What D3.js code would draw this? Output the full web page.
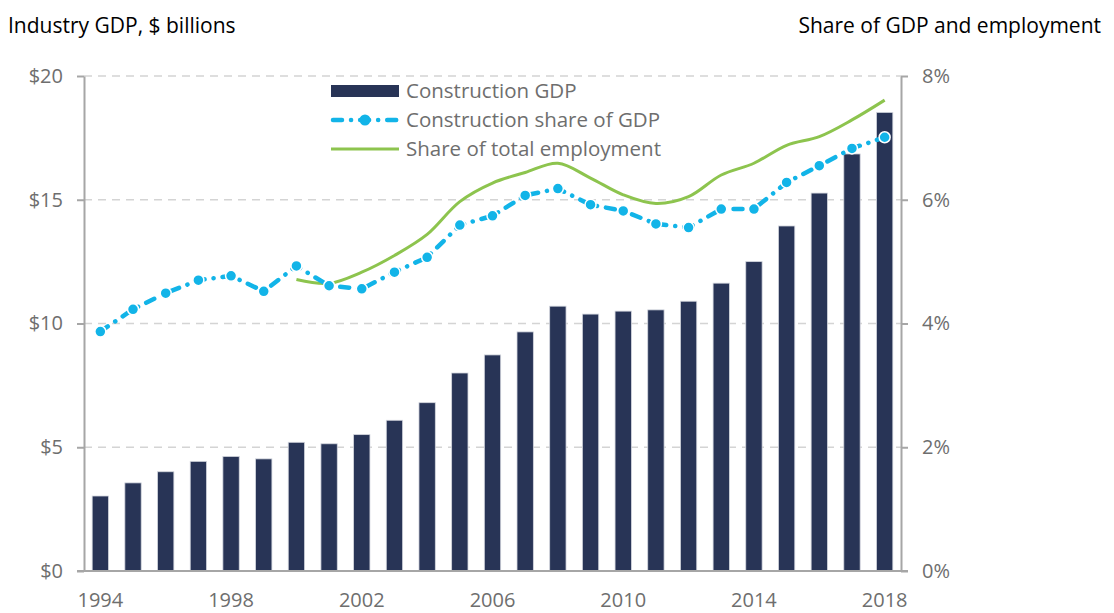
<!DOCTYPE html>
<html>
<head>
<meta charset="utf-8">
<script src="https://cdn.jsdelivr.net/npm/d3@7"></script>
<style>
body { margin: 0; background: #fff; }
svg text { font-family: "Open Sans", sans-serif; }
</style>
</head>
<body>
<svg width="1114" height="613"></svg>
<script>
// data
var years = [1994, 1995, 1996, 1997, 1998, 1999, 2000, 2001, 2002, 2003, 2004, 2005,
  2006, 2007, 2008, 2009, 2010, 2011, 2012, 2013, 2014, 2015, 2016, 2017, 2018];
var gdp = [3.03, 3.56, 4.01, 4.43, 4.63, 4.53, 5.2, 5.14, 5.51, 6.09, 6.8, 8.0,
  8.73, 9.66, 10.7, 10.38, 10.5, 10.55, 10.9, 11.63, 12.5, 13.94, 15.27, 16.85, 18.53];
var gdpShare = [3.87, 4.23, 4.49, 4.7, 4.77, 4.52, 4.93, 4.61, 4.56, 4.83, 5.07, 5.59,
  5.74, 6.07, 6.18, 5.92, 5.82, 5.61, 5.55, 5.85, 5.85, 6.28, 6.55, 6.83, 7.01];
var empYears = [2000, 2001, 2002, 2003, 2004, 2005, 2006, 2007, 2008, 2009, 2010,
  2011, 2012, 2013, 2014, 2015, 2016, 2017, 2018];
var empShare = [4.71, 4.65, 4.83, 5.1, 5.44, 5.97, 6.27, 6.44, 6.59, 6.35, 6.08,
  5.94, 6.05, 6.4, 6.59, 6.88, 7.02, 7.29, 7.61];
var leftTicks = [0, 5, 10, 15, 20];
var rightTicks = [0, 2, 4, 6, 8];
var yearLabels = [1994, 1998, 2002, 2006, 2010, 2014, 2018];
var legendNames = ["Construction GDP", "Construction share of GDP", "Share of total employment"];

var svg = d3.select("svg"),
  width = +svg.attr("width"),
  height = +svg.attr("height");

var barColor = "#283456", blue = "#12b4e8", green = "#8dc44e", axisGray = "#a6a6a6", textGray = "#6e6e6e";
var margin = {left: 84, right: width - 901, top: 76, bottom: height - 571};

var x = d3.scaleBand().domain(years)
  .range([margin.left, width - margin.right])
  .paddingInner(0.5).paddingOuter(0.25);
var yL = d3.scaleLinear().domain([0, 20]).range([height - margin.bottom, margin.top]);
var yR = d3.scaleLinear().domain([0, 8]).range([height - margin.bottom, margin.top]);
var cx = function(yr) { return x(yr) + x.bandwidth() / 2; };

// gridlines
svg.append("g").selectAll("line")
  .data(leftTicks.slice(1))
  .enter().append("line")
  .attr("x1", margin.left).attr("x2", width - margin.right)
  .attr("y1", function(d) { return yL(d); })
  .attr("y2", function(d) { return yL(d); })
  .attr("stroke", "#d4d4d4").attr("stroke-width", 1.5)
  .attr("stroke-dasharray", "8,6");

// bars
svg.append("g").selectAll("rect")
  .data(years)
  .enter().append("rect")
  .attr("x", function(d) { return x(d); })
  .attr("width", x.bandwidth())
  .attr("y", function(d, i) { return yL(gdp[i]); })
  .attr("height", function(d, i) { return yL(0) - yL(gdp[i]); })
  .attr("fill", barColor)
  .attr("stroke", "#d3d6de").attr("stroke-width", 0.8);

// axes
function styleAxis(g) {
  g.selectAll("path.domain").attr("stroke", axisGray).attr("stroke-width", 2);
  g.selectAll(".tick line").attr("stroke", axisGray).attr("stroke-width", 2);
  g.selectAll("text").attr("fill", textGray).attr("font-size", 20)
    .attr("font-family", "'Open Sans', sans-serif");
}

svg.append("g")
  .attr("transform", "translate(" + margin.left + ",0)")
  .call(d3.axisLeft(yL).tickValues(leftTicks).tickSize(7).tickSizeOuter(0)
    .tickPadding(14).tickFormat(function(d) { return "$" + d; }))
  .call(styleAxis);

svg.append("g")
  .attr("transform", "translate(" + (width - margin.right) + ",0)")
  .call(d3.axisRight(yR).tickValues(rightTicks).tickSize(7).tickSizeOuter(0)
    .tickPadding(14).tickFormat(function(d) { return d + "%"; }))
  .call(styleAxis);

var xAxis = svg.append("g")
  .attr("transform", "translate(0," + yL(0) + ")")
  .call(d3.axisBottom(x).tickValues(yearLabels).tickSize(0).tickPadding(22))
  .call(styleAxis);
xAxis.select("path.domain").remove();
xAxis.append("line")
  .attr("x1", margin.left - 7).attr("x2", width - margin.right + 7)
  .attr("stroke", axisGray).attr("stroke-width", 2);

// employment share, smoothed
var empLine = d3.line()
  .x(function(d) { return cx(d); })
  .y(function(d, i) { return yR(empShare[i]); })
  .curve(d3.curveCatmullRom.alpha(0.5));
svg.append("path")
  .datum(empYears)
  .attr("d", empLine)
  .attr("fill", "none").attr("stroke", green).attr("stroke-width", 3);

// construction share of GDP
var shareLine = d3.line()
  .x(function(d) { return cx(d); })
  .y(function(d, i) { return yR(gdpShare[i]); });
svg.append("path")
  .datum(years)
  .attr("d", shareLine)
  .attr("fill", "none").attr("stroke", blue).attr("stroke-width", 4.5)
  .attr("stroke-linecap", "round")
  .attr("stroke-dasharray", "9,9,0.1,9");

svg.append("g").selectAll("circle")
  .data(years)
  .enter().append("circle")
  .attr("cx", function(d) { return cx(d); })
  .attr("cy", function(d, i) { return yR(gdpShare[i]); })
  .attr("r", 5.5)
  .attr("fill", blue).attr("stroke", "#fff").attr("stroke-width", 1.5);

// legend
var legend = svg.append("g").attr("transform", "translate(331,91)");
var rowH = 29;
legend.append("rect")
  .attr("x", 0).attr("y", -6).attr("width", 68).attr("height", 12)
  .attr("fill", barColor);
legend.append("line")
  .attr("x1", 2).attr("x2", 68).attr("y1", rowH).attr("y2", rowH)
  .attr("stroke", blue).attr("stroke-width", 4.5)
  .attr("stroke-linecap", "round").attr("stroke-dasharray", "9,9,0.1,9");
legend.append("circle")
  .attr("cx", 34).attr("cy", rowH).attr("r", 5.5)
  .attr("fill", blue);
legend.append("line")
  .attr("x1", 0).attr("x2", 68).attr("y1", rowH * 2).attr("y2", rowH * 2)
  .attr("stroke", green).attr("stroke-width", 3);
legend.selectAll("text")
  .data(legendNames)
  .enter().append("text")
  .attr("x", 75)
  .attr("y", function(d, i) { return i * rowH; })
  .attr("dy", "0.35em")
  .attr("font-size", 20.5)
  .attr("fill", textGray)
  .text(function(d) { return d; });

// axis titles
svg.append("text")
  .attr("x", 8).attr("y", 33)
  .attr("font-size", 21).attr("fill", "#000")
  .text("Industry GDP, $ billions");
svg.append("text")
  .attr("x", 1101).attr("y", 33)
  .attr("text-anchor", "end")
  .attr("font-size", 21).attr("fill", "#000")
  .text("Share of GDP and employment");
</script>
</body>
</html>
